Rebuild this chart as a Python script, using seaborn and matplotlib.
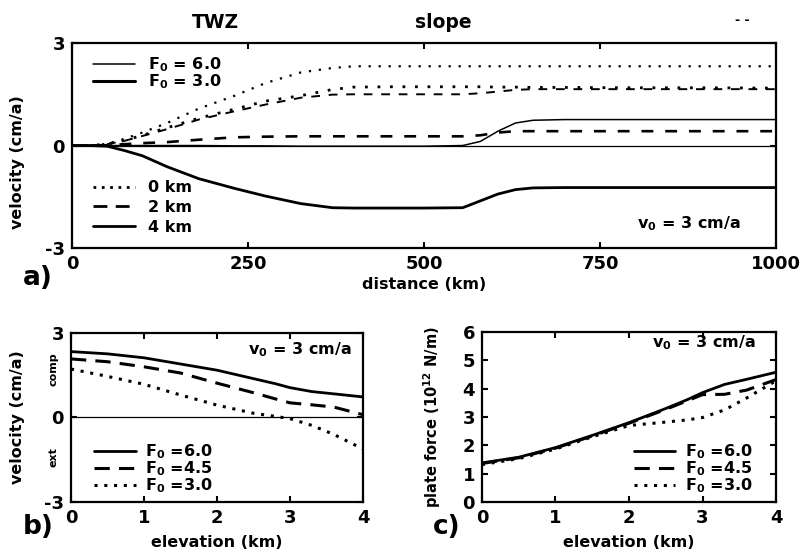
import matplotlib
matplotlib.use("Agg")
import matplotlib.pyplot as plt
from matplotlib.lines import Line2D
import seaborn as sns

# ---- panel a: velocity along the profile ----
distance_km = [0, 25, 50, 75, 100, 135, 180, 230, 275, 325, 370, 400, 450,
               500, 555, 580, 605, 630, 655, 700, 800, 900, 1000]
vel_f6_0km = [0, 0, 0.05, 0.2, 0.38, 0.66, 1.08, 1.45, 1.83, 2.14, 2.27, 2.32,
              2.32, 2.32, 2.32, 2.32, 2.32, 2.32, 2.32, 2.32, 2.32, 2.32, 2.32]
vel_f3_0km = [0, 0, 0.04, 0.15, 0.3, 0.52, 0.8, 1.06, 1.3, 1.46, 1.64, 1.71,
              1.72, 1.72, 1.72, 1.72, 1.71, 1.71, 1.7, 1.7, 1.69, 1.69, 1.68]
vel_f6_2km = [0, 0, 0.04, 0.14, 0.28, 0.48, 0.76, 1.0, 1.2, 1.4, 1.49, 1.5,
              1.5, 1.5, 1.5, 1.53, 1.58, 1.63, 1.65, 1.65, 1.65, 1.65, 1.65]
vel_f3_2km = [0, 0, 0.01, 0.04, 0.07, 0.1, 0.17, 0.24, 0.26, 0.27, 0.27, 0.27,
              0.27, 0.27, 0.27, 0.3, 0.38, 0.42, 0.42, 0.42, 0.42, 0.42, 0.42]
vel_f6_4km = [0, 0, 0, 0, 0, 0, 0, -0.01, -0.01, -0.02, -0.02, -0.02, -0.02,
              -0.02, 0, 0.12, 0.42, 0.66, 0.74, 0.76, 0.76, 0.76, 0.76]
vel_f3_4km = [0, 0, -0.02, -0.15, -0.3, -0.62, -0.97, -1.25, -1.48, -1.7, -1.82,
              -1.83, -1.83, -1.83, -1.82, -1.62, -1.42, -1.29, -1.24, -1.23,
              -1.23, -1.23, -1.23]

# ---- panels b and c: versus elevation ----
elevation_km = [0, 0.5, 1, 1.5, 2, 2.5, 2.8, 3, 3.3, 3.6, 4]
vel_f60 = [2.34, 2.26, 2.12, 1.9, 1.68, 1.38, 1.2, 1.06, 0.92, 0.84, 0.73]
vel_f45 = [2.08, 1.98, 1.8, 1.58, 1.22, 0.88, 0.66, 0.52, 0.45, 0.37, 0.1]
vel_f30 = [1.72, 1.46, 1.18, 0.8, 0.44, 0.15, 0.04, -0.04, -0.28, -0.6, -1.12]
force_f60 = [1.38, 1.58, 1.92, 2.35, 2.8, 3.3, 3.62, 3.86, 4.15, 4.33, 4.58]
force_f45 = [1.36, 1.56, 1.9, 2.33, 2.78, 3.27, 3.58, 3.79, 3.8, 3.95, 4.32]
force_f30 = [1.32, 1.53, 1.87, 2.3, 2.7, 2.82, 2.9, 2.98, 3.25, 3.67, 4.28]

sns.set_style("ticks")
plt.rcParams.update({
    "font.family": ["DejaVu Sans"],
    "font.weight": "bold",
    "axes.labelweight": "bold",
    "axes.unicode_minus": False,
    "mathtext.fontset": "custom",
    "mathtext.rm": "DejaVu Sans:bold",
    "mathtext.it": "DejaVu Sans:bold",
    "mathtext.bf": "DejaVu Sans:bold",
    "mathtext.default": "rm",
    "text.color": "black",
    "axes.labelcolor": "black",
    "axes.edgecolor": "black",
    "axes.linewidth": 1.6,
    "xtick.color": "black",
    "ytick.color": "black",
})

DOT = (0, (1, 3.5))
DOT_C = (0, (1, 2.2))
DASH = (0, (4.5, 4.5))
DASH_B = (0, (5, 3))
K = "black"
FS = 11.5


def style_axes(ax):
    ax.tick_params(direction="in", length=4, width=1.5, top=True, right=True,
                   labelsize=13, pad=5, colors=K)
    for lab in ax.get_xticklabels() + ax.get_yticklabels():
        lab.set_fontweight("bold")


fig = plt.figure(figsize=(8.03, 5.54), dpi=100)

# ================= panel a =================
ax = fig.add_axes([0.0897, 0.5523, 0.8767, 0.3700])
ax.axhline(0, color=K, lw=0.9)
sns.lineplot(x=distance_km, y=vel_f6_0km, ax=ax, color=K, lw=1.6, ls=DOT)
sns.lineplot(x=distance_km, y=vel_f3_0km, ax=ax, color=K, lw=2.0, ls=DOT)
sns.lineplot(x=distance_km, y=vel_f6_2km, ax=ax, color=K, lw=1.4, ls=DASH)
sns.lineplot(x=distance_km, y=vel_f3_2km, ax=ax, color=K, lw=1.9, ls=DASH)
sns.lineplot(x=distance_km, y=vel_f6_4km, ax=ax, color=K, lw=1.1)
sns.lineplot(x=distance_km, y=vel_f3_4km, ax=ax, color=K, lw=2.0)
ax.set_xlim(0, 1000)
ax.set_ylim(-3, 3)
ax.set_xticks([0, 250, 500, 750, 1000])
ax.set_yticks([-3, 0, 3])
ax.set_xlabel("distance (km)", fontsize=FS, labelpad=3)
ax.set_ylabel("velocity (cm/a)", fontsize=FS)
ax.yaxis.set_label_coords(-0.067, 0.42)
style_axes(ax)

h1 = [Line2D([], [], color=K, lw=1.1), Line2D([], [], color=K, lw=2.2)]
leg1 = ax.legend(h1, [r"F$_0$ = 6.0", r"F$_0$ = 3.0"], loc="upper left",
                 bbox_to_anchor=(0.01, 1.01), frameon=False, fontsize=FS,
                 handlelength=2.6, handletextpad=0.8, labelspacing=-0.1)
ax.add_artist(leg1)
h2 = [Line2D([], [], color=K, lw=2.0, ls=(0, (1, 2))),
      Line2D([], [], color=K, lw=2.0, ls=(0, (5, 3))),
      Line2D([], [], color=K, lw=2.0)]
ax.legend(h2, ["0 km", "2 km", "4 km"], loc="lower left",
          bbox_to_anchor=(0.01, -0.005), frameon=False, fontsize=FS,
          handlelength=2.6, handletextpad=0.8, labelspacing=0.3)
ax.text(0.949, 0.12, r"v$_0$ = 3 cm/a", transform=ax.transAxes, ha="right",
        va="center", fontsize=FS)

fig.text(215 / 803, 1 - 22 / 554, "TWZ", ha="center", va="center", fontsize=13.5)
fig.text(443 / 803, 1 - 22 / 554, "slope", ha="center", va="center", fontsize=13.5)
fig.text(742 / 803, 1 - 20 / 554, "- -", ha="center", va="center", fontsize=9)
fig.text(38 / 803, 1 - 278 / 554, "a)", ha="center", va="center", fontsize=19)

# ================= panel b =================
axb = fig.add_axes([0.0884, 0.0939, 0.3636, 0.3050])
axb.axhline(0, color=K, lw=0.9)
sns.lineplot(x=elevation_km, y=vel_f60, ax=axb, color=K, lw=2.0)
sns.lineplot(x=elevation_km, y=vel_f45, ax=axb, color=K, lw=2.2, ls=DASH_B)
sns.lineplot(x=elevation_km, y=vel_f30, ax=axb, color=K, lw=2.2, ls=DOT_C)
axb.set_xlim(0, 4)
axb.set_ylim(-3, 3)
axb.set_xticks([0, 1, 2, 3, 4])
axb.set_yticks([-3, 0, 3])
axb.set_xlabel("elevation (km)", fontsize=FS, labelpad=6)
axb.set_ylabel("velocity (cm/a)", fontsize=FS)
axb.yaxis.set_label_coords(-0.158, 0.5)
style_axes(axb)
axb.text(-0.06, 0.787, "comp", transform=axb.transAxes, rotation=90,
         ha="center", va="center", fontsize=8)
axb.text(-0.06, 0.266, "ext", transform=axb.transAxes, rotation=90,
         ha="center", va="center", fontsize=8)
axb.text(0.96, 0.9, r"v$_0$ = 3 cm/a", transform=axb.transAxes, ha="right",
         va="center", fontsize=FS)
hb = [Line2D([], [], color=K, lw=2.0),
      Line2D([], [], color=K, lw=2.2, ls=DASH_B),
      Line2D([], [], color=K, lw=2.2, ls=DOT_C)]
axb.legend(hb, [r"F$_0$ =6.0", r"F$_0$ =4.5", r"F$_0$ =3.0"], loc="lower left",
           bbox_to_anchor=(0.03, -0.045), frameon=False, fontsize=FS,
           handlelength=2.6, handletextpad=0.6, labelspacing=-0.1)
fig.text(38 / 803, 1 - 527 / 554, "b)", ha="center", va="center", fontsize=19)

# ================= panel c =================
axc = fig.add_axes([0.6002, 0.0939, 0.3662, 0.3068])
sns.lineplot(x=elevation_km, y=force_f60, ax=axc, color=K, lw=2.0)
sns.lineplot(x=elevation_km, y=force_f45, ax=axc, color=K, lw=2.2, ls=DASH_B)
sns.lineplot(x=elevation_km, y=force_f30, ax=axc, color=K, lw=2.2, ls=DOT_C)
axc.set_xlim(0, 4)
axc.set_ylim(0, 6)
axc.set_xticks([0, 1, 2, 3, 4])
axc.set_yticks([0, 1, 2, 3, 4, 5, 6])
axc.set_xlabel("elevation (km)", fontsize=FS, labelpad=6)
axc.set_ylabel(r"plate force (10$^{12}$ N/m)", fontsize=10.5)
axc.yaxis.set_label_coords(-0.133, 0.5)
style_axes(axc)
axc.text(0.929, 0.935, r"v$_0$ = 3 cm/a", transform=axc.transAxes, ha="right",
         va="center", fontsize=FS)
hc = [Line2D([], [], color=K, lw=2.0),
      Line2D([], [], color=K, lw=2.2, ls=DASH_B),
      Line2D([], [], color=K, lw=2.2, ls=DOT_C)]
axc.legend(hc, [r"F$_0$ =6.0", r"F$_0$ =4.5", r"F$_0$ =3.0"], loc="lower right",
           bbox_to_anchor=(0.97, -0.045), frameon=False, fontsize=FS,
           handlelength=2.6, handletextpad=0.6, labelspacing=-0.1)
fig.text(447 / 803, 1 - 527 / 554, "c)", ha="center", va="center", fontsize=19)

fig.savefig("out.png", dpi=100)
